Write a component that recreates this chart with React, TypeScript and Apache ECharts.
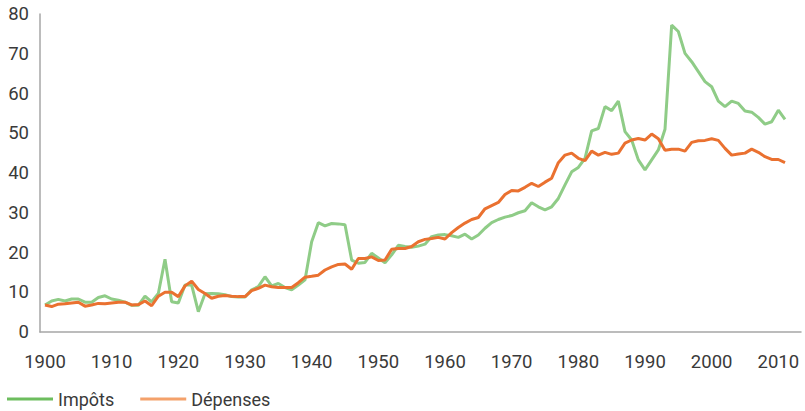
import React, { useEffect, useRef } from "react";
import * as echarts from "echarts";

const startYear = 1900;
const xTickLabels = [1900, 1910, 1920, 1930, 1940, 1950, 1960, 1970, 1980, 1990, 2000, 2010];

const impots = [
  6.8, 7.8, 8.2, 7.8, 8.3, 8.3, 7.5, 7.5, 8.7, 9.1,
  8.3, 8.0, 7.5, 6.7, 6.7, 9.0, 7.6, 9.7, 18.3, 7.6,
  7.3, 11.8, 11.8, 5.1, 9.6, 9.7, 9.6, 9.4, 8.9, 8.8,
  8.8, 10.6, 11.4, 13.9, 11.6, 12.2, 11.2, 10.6, 11.8, 13.1,
  22.7, 27.5, 26.7, 27.3, 27.2, 27.0, 18.1, 17.3, 17.5, 19.8,
  18.6, 17.4, 19.4, 21.8, 21.5, 21.3, 21.6, 22.1, 24.0, 24.4,
  24.5, 24.2, 23.8, 24.6, 23.4, 24.4, 26.1, 27.5, 28.3, 28.9,
  29.3, 30.0, 30.5, 32.5, 31.5, 30.7, 31.5, 33.6, 37.0, 40.3,
  41.4, 43.7, 50.6, 51.2, 56.7, 55.7, 58.1, 50.4, 48.3, 43.3,
  40.8, 43.3, 45.8, 51.0, 77.2, 75.6, 70.1, 68.0, 65.5, 63.0,
  61.7, 58.1, 56.7, 58.1, 57.5, 55.6, 55.3, 54.0, 52.3, 52.9,
  55.8, 53.5,
];

const depenses = [
  6.8, 6.4, 7.0, 7.1, 7.3, 7.5, 6.5, 6.8, 7.2, 7.1,
  7.3, 7.5, 7.5, 6.8, 6.9, 7.8, 6.6, 9.0, 10.0, 10.0,
  8.9, 11.6, 12.8, 10.7, 9.7, 8.5, 9.0, 9.2, 9.0, 8.9,
  8.9, 10.4, 11.0, 11.8, 11.4, 11.2, 11.2, 11.2, 12.4, 13.8,
  14.0, 14.3, 15.6, 16.4, 17.0, 17.1, 15.8, 18.5, 18.5, 18.9,
  18.0, 18.1, 20.8, 21.0, 21.0, 21.5, 22.7, 23.3, 23.5, 23.8,
  23.4, 25.0, 26.3, 27.4, 28.3, 28.8, 31.0, 31.8, 32.6, 34.6,
  35.6, 35.5, 36.4, 37.4, 36.6, 37.7, 38.7, 42.6, 44.5, 45.0,
  43.7, 43.1, 45.5, 44.5, 45.2, 44.7, 45.0, 47.5, 48.3, 48.7,
  48.3, 49.8, 48.6, 45.7, 46.0, 46.0, 45.5, 47.7, 48.1, 48.2,
  48.6, 48.2, 46.2, 44.5, 44.8, 45.0, 46.0, 45.2, 44.1, 43.4,
  43.4, 42.6,
];

const toPairs = (vals: number[]) => vals.map((v, i) => [startYear + i, v]);

export default function App() {
  const ref = useRef<HTMLDivElement>(null);
  useEffect(() => {
    if (!ref.current) return;
    const chart = echarts.init(ref.current, undefined, { renderer: "svg" });
    const font = "Roboto, 'Noto Sans', sans-serif";
    chart.setOption({
      animation: false,
      grid: { left: 40, right: 4, top: 14, bottom: 79, containLabel: false },
      xAxis: {
        type: "value",
        min: 1899.25,
        max: 2013.4,
        axisLine: { show: true, lineStyle: { color: "#a6a6a6", width: 1.5 } },
        axisTick: { show: false },
        splitLine: { show: false },
        axisLabel: {
          customValues: xTickLabels,
          margin: 20,
          color: "#3a3a3a",
          fontSize: 18.5,
          fontFamily: font,
          formatter: (v: number) => String(v),
        },
      },
      yAxis: {
        type: "value",
        min: 0,
        max: 80,
        interval: 10,
        axisLine: { show: true, lineStyle: { color: "#a6a6a6", width: 1.5 } },
        axisTick: { show: false },
        splitLine: { show: false },
        axisLabel: {
          margin: 11,
          color: "#3a3a3a",
          fontSize: 18.5,
          fontFamily: font,
          padding: [5, 0, 0, 0],
        },
      },
      legend: {
        left: 7,
        top: 390,
        padding: 0,
        icon: "rect",
        itemWidth: 46,
        itemHeight: 3,
        itemGap: 26,
        textStyle: { color: "#3a3a3a", fontSize: 18, fontFamily: font },
        data: [
          { name: "Impôts", itemStyle: { color: "#6dbd5e" } },
          { name: "Dépenses", itemStyle: { color: "#f4a16b" } },
        ],
      },
      series: [
        {
          name: "Impôts",
          type: "line",
          data: toPairs(impots),
          showSymbol: false,
          lineStyle: { color: "#8fcc87", width: 3 },
          itemStyle: { color: "#8fcc87" },
        },
        {
          name: "Dépenses",
          type: "line",
          data: toPairs(depenses),
          showSymbol: false,
          lineStyle: { color: "#ea7130", width: 3 },
          itemStyle: { color: "#ea7130" },
        },
      ],
    });
    return () => chart.dispose();
  }, []);
  return <div ref={ref} style={{ width: 805, height: 411, position: "absolute", left: 0, top: 0 }} />;
}
